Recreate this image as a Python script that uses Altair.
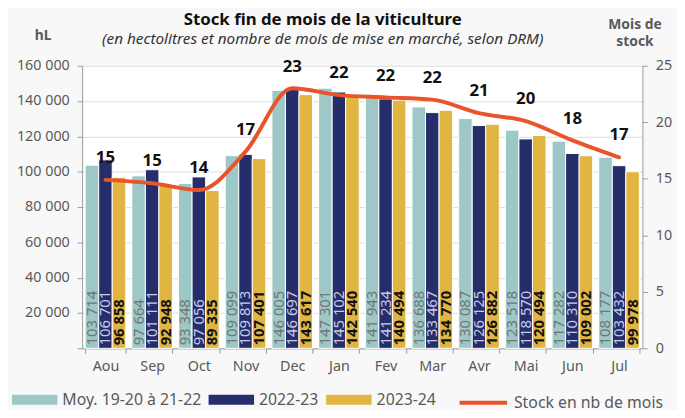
import altair as alt
import pandas as pd

months = ["Aou", "Sep", "Oct", "Nov", "Dec", "Jan", "Fev", "Mar", "Avr", "Mai", "Jun", "Jul"]
series = ["Moy. 19-20 à 21-22", "2022-23", "2023-24"]
moy = [103714, 97664, 93348, 109099, 146005, 147301, 141943, 136688, 130087, 123518, 117282, 108177]
s2223 = [106701, 101111, 97056, 109813, 146697, 145102, 141234, 133467, 126125, 118570, 110310, 103432]
s2324 = [96858, 92948, 89335, 107401, 143617, 142540, 140494, 134770, 126882, 120494, 109002, 99978]
stock = [14.9, 14.6, 14.0, 17.4, 23.0, 22.4, 22.2, 22.0, 20.8, 20.1, 18.4, 16.9]
line_name = "Stock en nb de mois"

bar_colors = ["#9ec8c7", "#252e6a", "#e1b541"]
text_colors = ["#6e7676", "#c9cce6", "#111111"]
line_color = "#e8552b"
FONT = "Noto Sans"

rows = []
for i, m in enumerate(months):
    for s, vals in zip(series, [moy, s2223, s2324]):
        rows.append({"month": m, "series": s, "value": vals[i], "zero": 0,
                     "label": f"{vals[i]:,}".replace(",", " ")})
bars_df = pd.DataFrame(rows)
line_df = pd.DataFrame({"month": months, "stock": stock, "series": line_name})

x_enc = alt.X("month:N", sort=months,
              scale=alt.Scale(paddingInner=0.13, paddingOuter=0.065),
              axis=alt.Axis(title=None, tickBand="extent", labelAngle=0,
                            labelFontSize=14.5, labelColor="#595959", labelPadding=6,
                            domainColor="#9a9a9a", tickColor="#9a9a9a", tickSize=5,
                            labelFont=FONT))
xo_enc = alt.XOffset("series:N", sort=series, scale=alt.Scale(domain=series, paddingInner=0, paddingOuter=0))

left_axis = alt.Axis(values=list(range(0, 160001, 20000)), labelOverlap=False,
                     labelExpr="datum.value == 0 ? '' : (datum.value / 1000) + ' 000'",
                     title="hL", titleAngle=0, titleX=-40, titleY=-31,
                     titleAlign="center", titleBaseline="middle",
                     titleFontSize=14, titleFontWeight="bold", titleColor="#595959",
                     labelFontSize=14.5, labelColor="#595959", labelPadding=8,
                     domainColor="#9a9a9a", tickColor="#9a9a9a", tickSize=5,
                     grid=True, gridColor="#dcdcdc", labelFont=FONT, titleFont=FONT)
left_scale = alt.Scale(domain=[0, 160000], nice=False)

bars = alt.Chart(bars_df).mark_bar(stroke="white", strokeWidth=1).encode(
    x=x_enc, xOffset=xo_enc,
    y=alt.Y("value:Q", scale=left_scale, axis=left_axis),
    fill=alt.Fill("series:N", sort=series,
                  scale=alt.Scale(domain=series, range=bar_colors),
                  legend=alt.Legend(title=None, orient="none", legendX=-71, legendY=315,
                                    direction="horizontal", columns=3,
                                    symbolType="M-1,-0.22H1V0.22H-1Z", symbolSize=2116,
                                    symbolStrokeWidth=0, labelFontSize=16, labelColor="#595959",
                                    labelFont=FONT, columnPadding=7, labelOffset=5, padding=0,
                                    labelLimit=400)),
)

text_layers = []
for s, c in zip(series, text_colors):
    text_layers.append(
        alt.Chart(bars_df).transform_filter(alt.datum.series == s).mark_text(
            angle=270, align="left", baseline="middle", dx=3, fontSize=15,
            font=FONT, color=c, fontWeight="bold" if s == "2023-24" else "normal"
        ).encode(x=x_enc, xOffset=xo_enc,
                 y=alt.Y("zero:Q", scale=left_scale, axis=left_axis),
                 text="label:N")
    )

left = alt.layer(bars, *text_layers)

right_axis = alt.Axis(orient="right", values=[0, 5, 10, 15, 20, 25], labelOverlap=False,
                      title=["Mois de", "stock"], titleAngle=0, titleX=-8, titleY=-42,
                      titleAlign="center", titleBaseline="middle", titleLineHeight=18,
                      titleFontSize=14, titleFontWeight="bold", titleColor="#595959",
                      labelFontSize=14.5, labelColor="#595959", labelPadding=8,
                      domainColor="#9a9a9a", tickColor="#9a9a9a", tickSize=5,
                      grid=False, labelFont=FONT, titleFont=FONT)
y_right = alt.Y("stock:Q", scale=alt.Scale(domain=[0, 25], nice=False), axis=right_axis)

line = alt.Chart(line_df).mark_line(interpolate="monotone", strokeWidth=4, strokeCap="round").encode(
    x=x_enc, y=y_right,
    stroke=alt.Stroke("series:N", scale=alt.Scale(domain=[line_name], range=[line_color]),
                      legend=alt.Legend(title=None, orient="none", legendX=380, legendY=315,
                                        symbolType="stroke", symbolSize=2304, symbolStrokeWidth=4,
                                        labelFontSize=16, labelColor="#595959", labelFont=FONT,
                                        labelOffset=5, padding=0, labelLimit=400)),
)
line_labels = alt.Chart(line_df).mark_text(
    fontSize=17, fontWeight="bold", color="#111111", dy=-22, font=FONT
).encode(x=x_enc, y=y_right, text=alt.Text("stock:Q", format=".0f"))

right = alt.layer(line, line_labels)

chart = alt.layer(left, right).resolve_scale(y="independent", fill="independent").properties(
    width=567, height=286,
    autosize=alt.AutoSizeParams(type="none"),
    padding={"left": 75, "top": 56, "right": 35, "bottom": 60},
    background="#f8f8f8",
    title=alt.Title("Stock fin de mois de la viticulture",
                    subtitle="(en hectolitres et nombre de mois de mise en marché, selon DRM)",
                    fontSize=17, fontWeight="bold", color="#111111", font=FONT,
                    subtitleFont=FONT, subtitleFontSize=15.5, subtitleFontStyle="italic",
                    subtitleColor="#333333", subtitlePadding=4,
                    anchor="middle", dx=-40, offset=-32),
).configure_view(stroke=None, fill="white")

chart.save("out.html", embed_options={"renderer": "svg", "actions": False})
